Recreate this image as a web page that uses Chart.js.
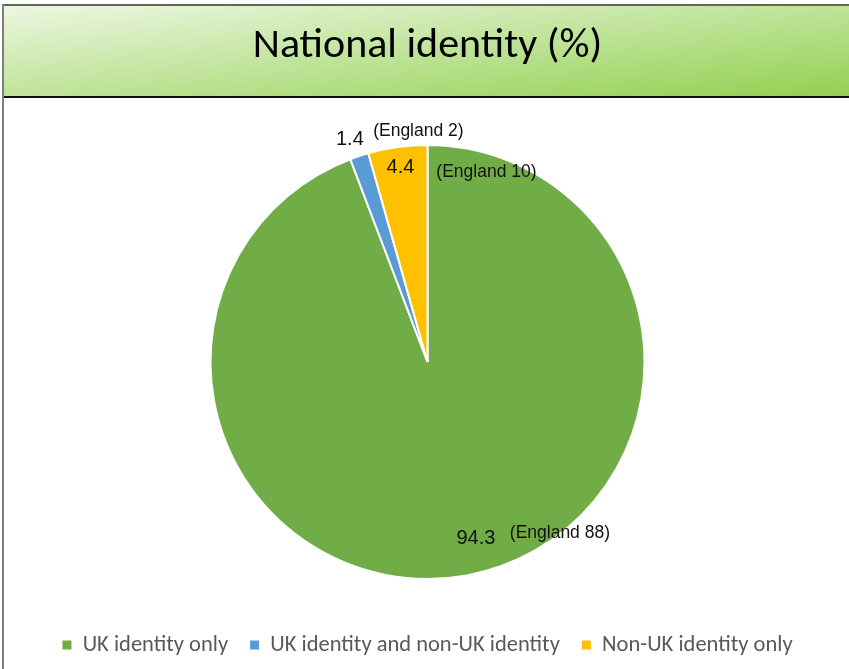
<!DOCTYPE html>
<html>
<head>
<meta charset="utf-8">
<script src="https://cdn.jsdelivr.net/npm/chart.js@4/dist/chart.umd.min.js"></script>
<style>
  html, body { margin: 0; padding: 0; background: #fff; }
  #wrap { width: 849px; height: 669px; }
</style>
</head>
<body>
<div id="wrap"><canvas id="c" width="849" height="669"></canvas></div>
<script>
const titleText = 'National identity (%)';
const categories = ['UK identity only', 'UK identity and non-UK identity', 'Non-UK identity only'];
const values = [94.3, 1.4, 4.4];
const englandValues = [88, 2, 10];
const colors = ['#70AD47', '#5B9BD5', '#FFC000'];

const frameFont = 'Carlito, Calibri, Lato, sans-serif';

const framePlugin = {
  id: 'frame',
  beforeDraw(chart) {
    const ctx = chart.ctx;
    const W = chart.width, H = chart.height;
    ctx.save();
    ctx.fillStyle = '#ffffff';
    ctx.fillRect(0, 0, W, H);
    const x0 = 3, y0 = 5, x1 = W, y1 = 97;
    const bw = x1 - x0, bh = y1 - y0;
    const k = 2 * bw * bh / (bw * bw + bh * bh);
    const g = ctx.createLinearGradient(x0, y0, x0 + bh * k, y0 + bw * k);
    g.addColorStop(0, '#ecf7e2');
    g.addColorStop(1, '#92d050');
    ctx.fillStyle = g;
    ctx.fillRect(x0, y0, bw, bh);
    ctx.strokeStyle = '#5f6757';
    ctx.lineWidth = 2;
    ctx.beginPath();
    ctx.moveTo(x0, y0);
    ctx.lineTo(x1, y0);
    ctx.stroke();
    ctx.strokeStyle = '#111111';
    ctx.beginPath();
    ctx.moveTo(x0, y1);
    ctx.lineTo(x1, y1);
    ctx.stroke();
    ctx.strokeStyle = '#7f7f7f';
    ctx.beginPath();
    ctx.moveTo(x0, y0 - 1);
    ctx.lineTo(x0, H);
    ctx.stroke();
    ctx.restore();
  }
};

const sliceLabelPlugin = {
  id: 'sliceLabels',
  afterDatasetsDraw(chart, args, opts) {
    const ctx = chart.ctx;
    const meta = chart.getDatasetMeta(0);
    const ds = chart.data.datasets[0];
    ctx.save();
    ctx.textAlign = 'center';
    ctx.textBaseline = 'middle';
    ctx.fillStyle = opts.color;
    meta.data.forEach((arc, i) => {
      const p = opts.positions[i];
      const mid = (arc.startAngle + arc.endAngle) / 2;
      const r = arc.outerRadius * p.f;
      const x = arc.x + Math.cos(mid) * r + p.dx;
      const y = arc.y + Math.sin(mid) * r + p.dy;
      ctx.font = opts.valueFont;
      ctx.fillText(String(ds.data[i]), x, y);
      ctx.font = opts.noteFont;
      ctx.fillText('(England ' + englandValues[i] + ')', x + p.ex, y + p.ey);
    });
    ctx.restore();
  }
};

new Chart(document.getElementById('c'), {
  type: 'doughnut',
  data: {
    labels: categories,
    datasets: [{
      data: values,
      backgroundColor: colors,
      borderColor: '#ffffff',
      borderWidth: 2,
      hoverOffset: 0
    }]
  },
  options: {
    responsive: false,
    devicePixelRatio: 1,
    animation: false,
    cutout: 0,
    radius: 217,
    layout: { padding: { left: 6, right: 0, top: 0, bottom: 2.75 } },
    plugins: {
      tooltip: { enabled: false },
      title: {
        display: true,
        text: titleText,
        color: '#000000',
        font: { family: frameFont, size: 42, weight: 'normal', lineHeight: 1.2 },
        padding: { top: 21, bottom: 40.85 }
      },
      legend: {
        display: true,
        position: 'bottom',
        labels: {
          color: '#595959',
          font: { family: frameFont, size: 22.5 },
          boxWidth: 9,
          boxHeight: 9,
          padding: 22,
          generateLabels(chart) {
            const items = Chart.overrides.doughnut.plugins.legend.labels.generateLabels(chart);
            return items.map(it => Object.assign(it, { lineWidth: 0, strokeStyle: 'rgba(0,0,0,0)' }));
          }
        }
      },
      sliceLabels: {
        color: '#111111',
        valueFont: '20px "Liberation Sans", Arial, sans-serif',
        noteFont: '17.5px "Liberation Sans", Arial, sans-serif',
        positions: [
          { f: 0.825, dx: 16, dy: 0, ex: 84, ey: -5 },
          { f: 1.078, dx: -4, dy: 0, ex: 68.5, ey: -8.5 },
          { f: 0.905, dx: 0, dy: 0, ex: 86, ey: 5 }
        ]
      }
    }
  },
  plugins: [framePlugin, sliceLabelPlugin]
});
</script>
</body>
</html>
